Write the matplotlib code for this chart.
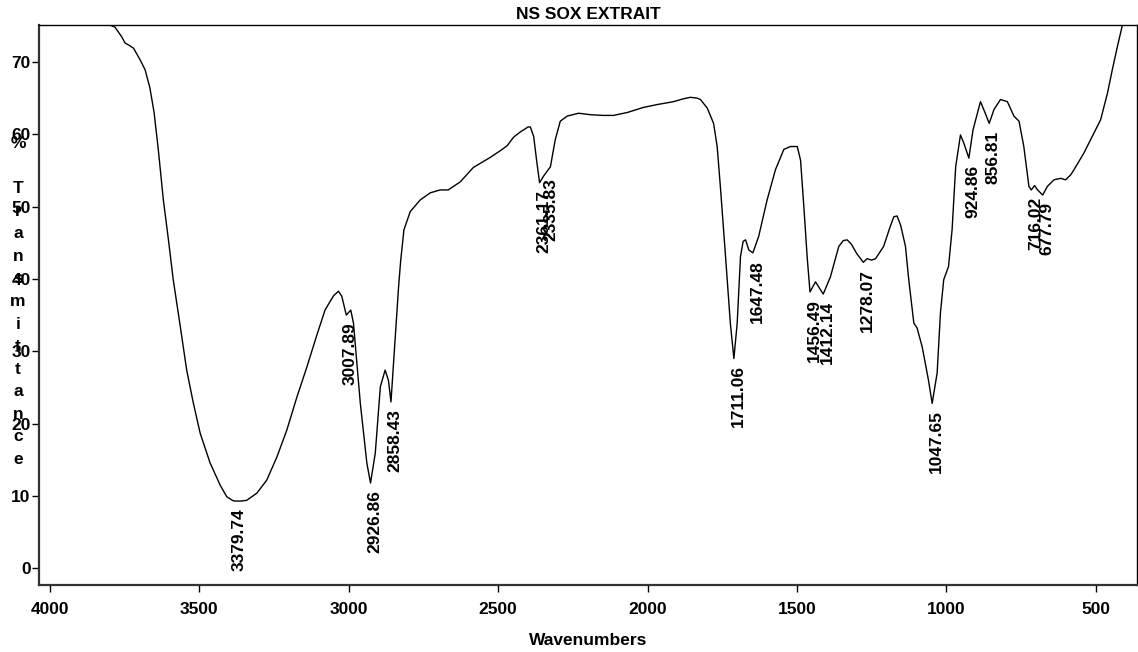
import numpy as np
import matplotlib.pyplot as plt

plt.rcParams['font.family'] = ['Liberation Sans', 'DejaVu Sans']
plt.rcParams['font.weight'] = 'bold'

# IR spectrum: wavenumber (cm-1) against % transmittance
wavenumbers = [
    3815, 3800, 3782, 3760, 3748, 3735, 3720, 3698, 3681, 3665, 3651, 3637,
    3620, 3603, 3587, 3564, 3542, 3520, 3497, 3464, 3430, 3408, 3387, 3379.74,
    3360, 3341, 3307, 3274, 3240, 3207, 3173, 3140, 3106, 3079, 3062, 3050,
    3034, 3023, 3007.89, 2993, 2984, 2961, 2939, 2926.86, 2911, 2894, 2878,
    2867, 2858.43, 2844, 2833, 2826, 2815, 2794, 2761, 2727, 2694, 2667, 2627,
    2583, 2526, 2490, 2470, 2448, 2426, 2400, 2392, 2381, 2370, 2361.17, 2348,
    2335.83, 2325, 2309, 2292, 2269, 2231, 2191, 2150, 2114, 2068, 2014, 1968,
    1913, 1880, 1857, 1835, 1823, 1800, 1779, 1767, 1756, 1739, 1723, 1711.06,
    1700, 1689, 1680, 1672, 1661, 1647.48, 1628, 1600, 1572, 1544, 1522, 1499,
    1488, 1477, 1466, 1456.49, 1438, 1412.14, 1388, 1360, 1345, 1332, 1318,
    1300, 1282, 1278.07, 1265, 1250, 1237, 1210, 1190, 1176, 1165, 1153, 1137,
    1126, 1109, 1098, 1081, 1060, 1047.65, 1031, 1020, 1009, 993, 981, 969,
    953, 942, 924.86, 911, 886, 870, 856.81, 841, 819, 796, 774, 757, 741, 724,
    716.02, 705, 695, 677.79, 662, 640, 618, 601, 584, 573, 540, 512, 484, 461,
    445, 428, 411, 400,
]
transmittance = [
    75.4, 75.1, 74.8, 73.5, 72.6, 72.3, 71.9, 70.3, 68.9, 66.4, 63.0, 57.9,
    50.9, 45.4, 39.9, 33.6, 27.4, 22.9, 18.7, 14.6, 11.5, 9.9, 9.35, 9.3,
    9.3, 9.4, 10.4, 12.2, 15.4, 19.1, 23.7, 27.8, 32.3, 35.7, 36.9, 37.7,
    38.3, 37.6, 35.0, 35.7, 33.9, 22.8, 14.5, 11.8, 15.9, 25.1, 27.4,
    26.0, 23.0, 32.0, 38.9, 42.5, 46.8, 49.3, 50.9, 51.9, 52.3, 52.3, 53.4,
    55.4, 56.8, 57.8, 58.4, 59.6, 60.3, 61.0, 61.0, 59.7, 56.0, 53.3, 54.2,
    54.9, 55.5, 59.2, 61.8, 62.5, 62.9, 62.7, 62.6, 62.6, 63.0, 63.7, 64.1,
    64.5, 64.9, 65.1, 65.0, 64.8, 63.6, 61.5, 58.3, 52.6, 43.1, 33.9, 29.0,
    33.9, 43.1, 45.2, 45.4, 44.0, 43.6, 45.9, 50.9, 55.1, 57.9, 58.3, 58.3,
    56.4, 50.0, 43.1, 38.2, 39.6, 37.9, 40.3, 44.5, 45.3, 45.4, 44.8,
    43.5, 42.5, 42.3, 42.8, 42.6, 42.8, 44.5, 47.0, 48.6, 48.7, 47.4, 44.5,
    39.9, 33.9, 33.2, 30.6, 26.0, 22.8, 27.0, 35.3, 39.9, 41.7, 46.8, 55.5,
    59.9, 58.8, 56.7, 60.6, 64.5, 62.9, 61.5, 63.4, 64.8, 64.5, 62.5, 61.8, 58.3, 52.8,
    52.3, 52.9, 52.3, 51.6, 52.8, 53.7, 53.9, 53.7, 54.4, 55.1, 57.4, 59.7, 62.0, 65.7,
    68.9, 72.1, 75.1, 76.5,
]

# marked absorption bands
peak_positions = [3379.74, 3007.89, 2926.86, 2858.43, 2361.17, 2335.83,
                  1711.06, 1647.48, 1456.49, 1412.14, 1278.07, 1047.65,
                  924.86, 856.81, 716.02, 677.79]

x_ticks = [4000, 3500, 3000, 2500, 2000, 1500, 1000, 500]
y_ticks = [0, 10, 20, 30, 40, 50, 60, 70]

wn = np.array(wavenumbers)
tr = np.array(transmittance)

fig = plt.figure(figsize=(11.38, 6.52), dpi=100)
ax = fig.add_axes([0.0343, 0.1028, 0.9649, 0.8589])

ax.plot(wn, tr, color='black', linewidth=1.0)

for p in peak_positions:
    t = np.interp(p, wn[::-1], tr[::-1])
    ax.annotate(f'{p:.2f}', xy=(p, t), xytext=(3, -5),
                textcoords='offset points', rotation=90,
                ha='center', va='top', fontsize=12.5, fontweight='bold')

ax.set_xlim(4036, 362)
ax.set_ylim(-2.3, 75.1)
ax.set_xticks(x_ticks)
ax.set_yticks(y_ticks)
ax.tick_params(axis='both', direction='out', length=5, width=1,
               labelsize=12.5)
ax.tick_params(axis='y', pad=1)
ax.tick_params(axis='x', pad=7)
for lab in ax.get_xticklabels() + ax.get_yticklabels():
    lab.set_fontweight('bold')

for side in ['left', 'bottom']:
    ax.spines[side].set_linewidth(1.6)
    ax.spines[side].set_color('#333333')
for side in ['top', 'right']:
    ax.spines[side].set_linewidth(1.0)
    ax.spines[side].set_color('black')

ax.set_title('NS SOX EXTRAIT', fontsize=12.5, fontweight='bold', pad=4)
ax.set_xlabel('Wavenumbers', fontsize=12.5, fontweight='bold')
ax.xaxis.set_label_coords(0.5, -0.086)

# y label drawn as a stacked column of letters
fig.text(0.0158, 0.5376, '\n'.join('% Transmittance'), ha='center',
         va='center', fontsize=12.5, fontweight='bold', linespacing=1.63)

fig.savefig('out.png', dpi=100)
